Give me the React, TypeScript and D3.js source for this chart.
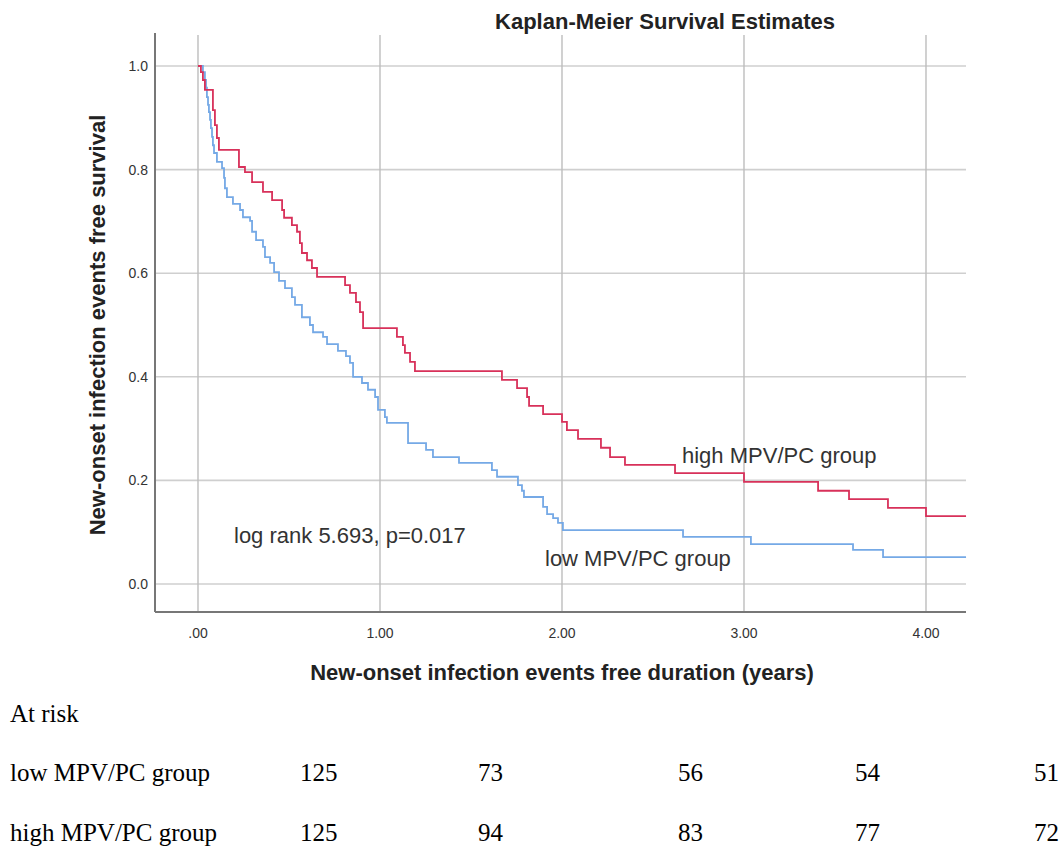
import React from 'react';
import * as d3 from 'd3';

// Kaplan-Meier steps: [time in years, survival after the drop]
const highGroup: [number, number][] = [
  [0, 1.0], [0.016, 0.988], [0.027, 0.973], [0.038, 0.954], [0.082, 0.915], [0.093, 0.886],
  [0.104, 0.861], [0.115, 0.838], [0.225, 0.805], [0.258, 0.795], [0.297, 0.776], [0.357, 0.757],
  [0.407, 0.741], [0.462, 0.722], [0.473, 0.707], [0.516, 0.693], [0.544, 0.68], [0.56, 0.658],
  [0.571, 0.639], [0.599, 0.625], [0.626, 0.61], [0.654, 0.593], [0.808, 0.577], [0.835, 0.562],
  [0.868, 0.544], [0.89, 0.525], [0.907, 0.494], [1.093, 0.477], [1.126, 0.461], [1.137, 0.446],
  [1.165, 0.429], [1.192, 0.411], [1.67, 0.394], [1.753, 0.378], [1.808, 0.361], [1.819, 0.344],
  [1.896, 0.328], [2.0, 0.313], [2.027, 0.297], [2.088, 0.28], [2.214, 0.263], [2.264, 0.245],
  [2.346, 0.23], [2.621, 0.214], [3.0, 0.197], [3.407, 0.18], [3.577, 0.164], [3.791, 0.147],
  [4.0, 0.131], [4.22, 0.131],
];

const lowGroup: [number, number][] = [
  [0, 1.0], [0.027, 0.988], [0.038, 0.973], [0.044, 0.958], [0.049, 0.94], [0.055, 0.925],
  [0.06, 0.911], [0.066, 0.896], [0.071, 0.88], [0.077, 0.863], [0.082, 0.847], [0.088, 0.832],
  [0.104, 0.815], [0.132, 0.803], [0.143, 0.784], [0.148, 0.764], [0.159, 0.747], [0.192, 0.734],
  [0.231, 0.722], [0.247, 0.708], [0.286, 0.701], [0.297, 0.68], [0.319, 0.664], [0.357, 0.651],
  [0.368, 0.631], [0.396, 0.62], [0.418, 0.602], [0.445, 0.585], [0.478, 0.571], [0.516, 0.554],
  [0.533, 0.539], [0.571, 0.515], [0.615, 0.5], [0.632, 0.486], [0.687, 0.477], [0.709, 0.463],
  [0.769, 0.45], [0.813, 0.44], [0.835, 0.427], [0.852, 0.4], [0.901, 0.388], [0.934, 0.375],
  [0.973, 0.361], [0.989, 0.336], [1.027, 0.322], [1.038, 0.311], [1.154, 0.272], [1.253, 0.259],
  [1.291, 0.245], [1.434, 0.234], [1.615, 0.22], [1.643, 0.207], [1.758, 0.191], [1.78, 0.18],
  [1.791, 0.168], [1.896, 0.149], [1.918, 0.135], [1.951, 0.127], [1.978, 0.118], [2.005, 0.104],
  [2.665, 0.091], [3.038, 0.077], [3.599, 0.066], [3.764, 0.052], [4.22, 0.052],
];

const xTicks = [0, 1, 2, 3, 4];
const xTickLabels = ['.00', '1.00', '2.00', '3.00', '4.00'];
const yTicks = [0, 0.2, 0.4, 0.6, 0.8, 1.0];

const riskGroups = ['low MPV/PC group', 'high MPV/PC group'];
const riskLow = [125, 73, 56, 54, 51];
const riskHigh = [125, 94, 83, 77, 72];
const riskCols = [300, 478, 678, 855, 1034];

const sans = "Arial, 'Liberation Sans', sans-serif";
const serif = "'Times New Roman', 'Liberation Serif', serif";

export default function App() {
  const width = 1063;
  const height = 846;
  const left = 155;
  const right = 966;
  const top = 33;
  const bottom = 612;

  const x = d3.scaleLinear().domain([0, 4]).range([198, 926]);
  const y = d3.scaleLinear().domain([0, 1]).range([584, 66]);

  const line = d3
    .line<[number, number]>()
    .x((d) => x(d[0]))
    .y((d) => y(d[1]))
    .curve(d3.curveStepAfter);

  return (
    <svg
      width={width}
      height={height}
      style={{ position: 'absolute', left: 0, top: 0, background: '#fff' }}
    >
      <text x={665} y={29} textAnchor="middle" fontFamily={sans} fontWeight="bold" fontSize={22} fill="#222">
        Kaplan-Meier Survival Estimates
      </text>

      {/* grid */}
      {yTicks.map((t) => (
        <line key={'h' + t} x1={left} x2={right} y1={y(t)} y2={y(t)} stroke="#cfcfcf" strokeWidth={1.6} />
      ))}
      {xTicks.map((t) => (
        <line key={'v' + t} x1={x(t)} x2={x(t)} y1={top + 2} y2={bottom} stroke="#bdbdbd" strokeWidth={1.4} />
      ))}

      {/* axes */}
      <line x1={left} x2={left} y1={top} y2={bottom} stroke="#777" strokeWidth={2} />
      <line x1={left} x2={right} y1={bottom} y2={bottom} stroke="#777" strokeWidth={2} />

      {yTicks.map((t) => (
        <text key={'yl' + t} x={148} y={y(t)} dy="0.35em" textAnchor="end" fontFamily={sans} fontSize={14} fill="#333">
          {t.toFixed(1)}
        </text>
      ))}
      {xTicks.map((t, i) => (
        <text key={'xl' + t} x={x(t)} y={638} textAnchor="middle" fontFamily={sans} fontSize={14} fill="#333">
          {xTickLabels[i]}
        </text>
      ))}

      <text
        transform={`translate(97,325) rotate(-90)`}
        dy="0.35em"
        textAnchor="middle"
        fontFamily={sans}
        fontWeight="bold"
        fontSize={22}
        fill="#222"
      >
        New-onset infection events free survival
      </text>
      <text x={562} y={680} textAnchor="middle" fontFamily={sans} fontWeight="bold" fontSize={22} fill="#222">
        New-onset infection events free duration (years)
      </text>

      {/* curves */}
      <path d={line(lowGroup) || ''} fill="none" stroke="#75a9e6" strokeWidth={1.8} />
      <path d={line(highGroup) || ''} fill="none" stroke="#d8315a" strokeWidth={1.8} />

      <text x={234} y={543} fontFamily={sans} fontSize={22} fill="#333">log rank 5.693, p=0.017</text>
      <text x={545} y={566} fontFamily={sans} fontSize={22} fill="#333">low MPV/PC group</text>
      <text x={682} y={463} fontFamily={sans} fontSize={22} fill="#333">high MPV/PC group</text>

      {/* at-risk table */}
      <text x={10} y={722} fontFamily={serif} fontSize={25} fill="#000">At risk</text>
      {riskGroups.map((g, r) => {
        const vals = r === 0 ? riskLow : riskHigh;
        const yy = r === 0 ? 781 : 841;
        return (
          <g key={g}>
            <text x={10} y={yy} fontFamily={serif} fontSize={25} fill="#000">{g}</text>
            {vals.map((v, i) => (
              <text key={i} x={riskCols[i]} y={yy} fontFamily={serif} fontSize={25} fill="#000">{v}</text>
            ))}
          </g>
        );
      })}
    </svg>
  );
}
